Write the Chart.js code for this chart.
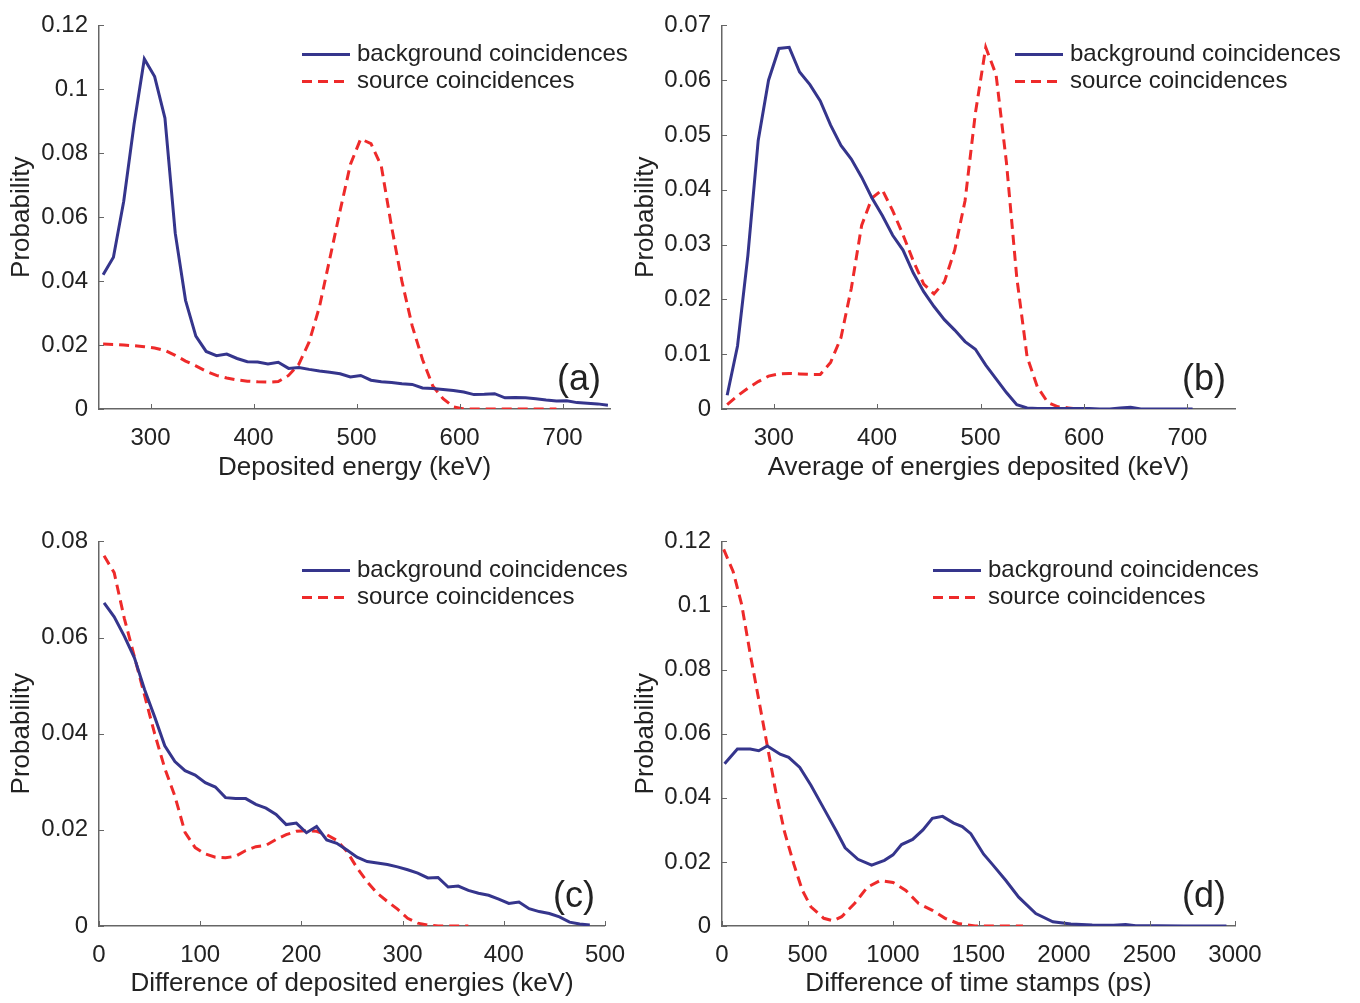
<!DOCTYPE html>
<html>
<head>
<meta charset="utf-8">
<script src="https://cdn.jsdelivr.net/npm/chart.js@4.4.0/dist/chart.umd.min.js"></script>
<style>
  body { margin: 0; background: #fff; width: 1360px; height: 1003px; position: relative; overflow: hidden; }
  .panel { position: absolute; }
</style>
</head>
<body>
<div class="panel" style="left:0;top:0;width:640px;height:500px"><canvas id="chartA"></canvas></div>
<div class="panel" style="left:630px;top:0;width:730px;height:500px"><canvas id="chartB"></canvas></div>
<div class="panel" style="left:0;top:516px;width:640px;height:487px"><canvas id="chartC"></canvas></div>
<div class="panel" style="left:630px;top:516px;width:730px;height:487px"><canvas id="chartD"></canvas></div>
<script>
// (a) deposited energy
const energyA = [254,264,274,284,294,304,314,324,334,344,354,364,374,384,394,404,414,424,434,444,454,464,474,484,494,504,514,524,534,544,554,564,574,584,594,604,614,624,634,644,654,664,674,684,694,704,714,724,734,744];
const bgA = [0.042,0.0475,0.065,0.089,0.1095,0.104,0.091,0.055,0.034,0.0228,0.018,0.0167,0.0172,0.0158,0.0148,0.0147,0.0141,0.0146,0.0127,0.013,0.0124,0.0119,0.0115,0.011,0.0100,0.0105,0.0090,0.0085,0.0083,0.0079,0.0077,0.0066,0.0064,0.0061,0.0058,0.0053,0.0045,0.0046,0.0048,0.0035,0.0036,0.0035,0.0032,0.0028,0.0025,0.0026,0.0020,0.0018,0.0016,0.0012];
const srcA = [0.0203,0.0202,0.0200,0.0198,0.0195,0.0191,0.0183,0.0168,0.0150,0.0135,0.0118,0.0105,0.0097,0.0091,0.0087,0.0085,0.0084,0.0086,0.0105,0.0140,0.021,0.032,0.047,0.062,0.0765,0.0845,0.083,0.076,0.057,0.040,0.026,0.0155,0.0072,0.0032,0.0007,0,0,0,0,0,0,0,0,0,0];

// (b) average of energies
const energyB = [255,265,275,285,295,305,315,325,335,345,355,365,375,385,395,405,415,425,435,445,455,465,475,485,495,505,515,525,535,545,555,565,575,585,595,605,615,625,635,645,655,665,675,685,695,705];
const bgB = [0.0025,0.0115,0.028,0.049,0.060,0.0658,0.0660,0.0615,0.0592,0.0562,0.0518,0.0481,0.0456,0.0423,0.0385,0.0353,0.0317,0.0290,0.0248,0.0214,0.0187,0.0163,0.0144,0.0123,0.0109,0.0080,0.0055,0.0030,0.0008,0.0002,0.0001,0.0001,0.0001,0.0001,0.0001,0.0001,0,0,0.0002,0.0003,0,0,0,0,0,0];
const srcB = [0.0008,0.0024,0.0038,0.0050,0.0060,0.0064,0.0065,0.0064,0.0063,0.0063,0.0085,0.013,0.022,0.0335,0.0385,0.0400,0.0362,0.0318,0.0270,0.0228,0.0210,0.0232,0.0290,0.038,0.054,0.066,0.061,0.045,0.024,0.0095,0.0040,0.0012,0.0004,0.0002,0];

// (c) difference of energies
const energyC = [5,15,25,35,45,55,65,75,85,95,105,115,125,135,145,155,165,175,185,195,205,215,225,235,245,255,265,275,285,295,305,315,325,335,345,355,365,375,385,395,405,415,425,435,445,455,465,475,485];
const bgC = [0.0672,0.0643,0.0603,0.0558,0.0492,0.0435,0.0375,0.0342,0.0323,0.0314,0.0298,0.0289,0.0267,0.0265,0.0265,0.0253,0.0245,0.0232,0.0211,0.0214,0.0194,0.0207,0.0179,0.0172,0.0158,0.0143,0.0134,0.0131,0.0128,0.0123,0.0117,0.0110,0.0100,0.0101,0.0081,0.0083,0.0074,0.0068,0.0064,0.0056,0.0047,0.0050,0.0036,0.0030,0.0026,0.0019,0.0008,0.0004,0.0002];
const srcC = [0.077,0.0735,0.064,0.056,0.048,0.040,0.0328,0.027,0.0195,0.0163,0.015,0.0143,0.0142,0.0145,0.0157,0.0165,0.0168,0.018,0.019,0.0197,0.0198,0.0197,0.019,0.0178,0.0155,0.0121,0.0092,0.0068,0.0051,0.0035,0.0016,0.0006,0.0002,0,0,0,0];

// (d) difference of time stamps
const timeBg = [15,90,165,215,265,340,390,455,520,595,670,720,795,875,950,1000,1050,1115,1175,1230,1290,1355,1405,1455,1530,1580,1660,1735,1835,1935,2040,2165,2290,2360,2420,2550,2700,2950];
const bgD = [0.0506,0.0552,0.0552,0.0547,0.0562,0.0536,0.0526,0.0495,0.0439,0.0367,0.0295,0.0244,0.0208,0.0190,0.0205,0.0222,0.0254,0.0270,0.0300,0.0336,0.0342,0.0321,0.0310,0.0288,0.0224,0.0193,0.0142,0.0090,0.0039,0.0013,0.0006,0.0003,0.0002,0.0005,0.0001,0.0001,0,0];
const timeSrc = [10,65,115,165,215,265,315,365,420,470,520,595,650,700,775,850,925,1000,1075,1150,1230,1305,1380,1480,1600,1760];
const srcD = [0.1175,0.1106,0.1003,0.0849,0.0706,0.0562,0.0418,0.0295,0.0193,0.0111,0.006,0.0024,0.0016,0.0029,0.007,0.0121,0.0142,0.0136,0.0111,0.007,0.0049,0.0024,0.0008,0,0,0];

const ticksEnergy = [300,400,500,600,700];
const ticksDiff = [0,100,200,300,400,500];
const ticksTime = [0,500,1000,1500,2000,2500,3000];

const FONT = '"Liberation Sans", Arial, sans-serif';
const BLUE = '#35358c';
const RED = '#ee2a2a';

Chart.defaults.font.family = FONT;
Chart.defaults.font.size = 24;
Chart.defaults.color = '#222';

// inward tick marks, legend inside the plot, panel letter
const extras = {
    id: 'extras',
    afterDraw(chart, args, opts) {
        const { ctx, chartArea: a, scales: { x, y } } = chart;
        ctx.save();
        ctx.strokeStyle = '#666';
        ctx.lineWidth = 1;
        ctx.beginPath();
        x.ticks.forEach(t => {
            const px = Math.round(x.getPixelForValue(t.value)) + 0.5;
            ctx.moveTo(px, a.bottom); ctx.lineTo(px, a.bottom - 5);
        });
        y.ticks.forEach(t => {
            const py = Math.round(y.getPixelForValue(t.value)) + 0.5;
            ctx.moveTo(a.left, py); ctx.lineTo(a.left + 5, py);
        });
        ctx.stroke();

        ctx.fillStyle = '#222';
        ctx.font = '36px ' + FONT;
        ctx.textAlign = 'center';
        ctx.textBaseline = 'middle';
        ctx.fillText(opts.letter, a.right - 31, a.bottom - 29);

        const lx = a.left + opts.legendX;
        ctx.font = '24px ' + FONT;
        ctx.textAlign = 'left';
        chart.data.datasets.forEach((ds, i) => {
            const ly = a.top + 29 + i * 27;
            ctx.strokeStyle = ds.borderColor;
            ctx.lineWidth = ds.borderWidth;
            ctx.setLineDash(ds.borderDash || []);
            ctx.beginPath(); ctx.moveTo(lx, ly); ctx.lineTo(lx + 48, ly); ctx.stroke();
            ctx.setLineDash([]);
            ctx.fillText(ds.label, lx + 55, ly);
        });
        ctx.restore();
    }
};

function points(xs, ys) {
    return ys.map((v, i) => ({ x: xs[i], y: v }));
}

function makeChart(id, p) {
    new Chart(document.getElementById(id), {
        type: 'line',
        data: {
            datasets: [
                { label: 'background coincidences', data: p.bg, borderColor: BLUE, borderWidth: 3, pointRadius: 0, tension: 0 },
                { label: 'source coincidences', data: p.src, borderColor: RED, borderWidth: 3, borderDash: [10, 6], pointRadius: 0, tension: 0 }
            ]
        },
        options: {
            responsive: true,
            maintainAspectRatio: false,
            animation: false,
            layout: { padding: { left: 0, top: 20, right: p.padRight, bottom: 0 } },
            plugins: {
                legend: { display: false },
                tooltip: { enabled: false },
                extras: { letter: p.letter, legendX: p.legendX }
            },
            scales: {
                x: {
                    type: 'linear', min: p.xMin, max: p.xMax,
                    afterBuildTicks: s => { s.ticks = p.xTicks.map(v => ({ value: v })); },
                    afterFit: s => { s.height = p.xHeight; },
                    grid: { drawOnChartArea: false, drawTicks: false },
                    border: { display: true, color: '#666', width: 1.5 },
                    ticks: { padding: 15, autoSkip: false, maxRotation: 0, callback: v => String(v) },
                    title: { display: true, text: p.xTitle, font: { size: 26 }, padding: { top: 0, bottom: p.xTitlePad } }
                },
                y: {
                    min: 0, max: p.yMax,
                    afterFit: s => { s.width = p.yWidth; },
                    grid: { drawOnChartArea: false, drawTicks: false },
                    border: { display: true, color: '#666', width: 1.5 },
                    ticks: { stepSize: p.yStep, padding: 11, autoSkip: false, callback: v => String(parseFloat(v.toFixed(3))) },
                    title: { display: true, text: 'Probability', font: { size: 26 }, padding: { top: p.yTitlePad, bottom: 0 } }
                }
            }
        },
        plugins: [extras]
    });
}

makeChart('chartA', {
    bg: points(energyA, bgA), src: points(energyA, srcA), letter: '(a)', legendX: 203,
    xMin: 250, xMax: 746, xTicks: ticksEnergy, xTitle: 'Deposited energy (keV)',
    yMax: 0.12, yStep: 0.02, yWidth: 99, padRight: 30, xHeight: 91, xTitlePad: 17, yTitlePad: 6
});
makeChart('chartB', {
    bg: points(energyB, bgB), src: points(energyB, srcB), letter: '(b)', legendX: 293,
    xMin: 250, xMax: 746, xTicks: ticksEnergy, xTitle: 'Average of energies deposited (keV)',
    yMax: 0.07, yStep: 0.01, yWidth: 92, padRight: 125, xHeight: 91, xTitlePad: 17, yTitlePad: 0
});
makeChart('chartC', {
    bg: points(energyC, bgC), src: points(energyC, srcC), letter: '(c)', legendX: 203,
    xMin: 0, xMax: 500, xTicks: ticksDiff, xTitle: 'Difference of deposited energies (keV)',
    yMax: 0.08, yStep: 0.02, yWidth: 99, padRight: 28, xHeight: 77, xTitlePad: 4, yTitlePad: 6
});
makeChart('chartD', {
    bg: points(timeBg, bgD), src: points(timeSrc, srcD), letter: '(d)', legendX: 211,
    xMin: 0, xMax: 3000, xTicks: ticksTime, xTitle: 'Difference of time stamps (ps)',
    yMax: 0.12, yStep: 0.02, yWidth: 92, padRight: 125, xHeight: 77, xTitlePad: 4, yTitlePad: 0
});
</script>
</body>
</html>
